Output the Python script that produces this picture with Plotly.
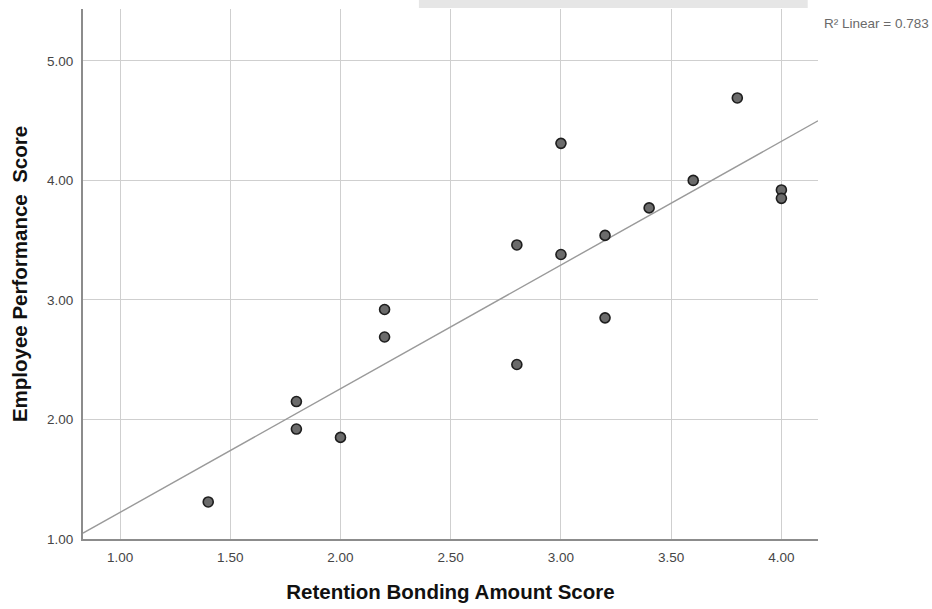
import numpy as np
import plotly.graph_objects as go

# Retention bonding amount score (x) vs employee performance score (y)
retention = [1.4, 1.8, 1.8, 2.0, 2.2, 2.2, 2.8, 2.8, 3.0, 3.0, 3.2, 3.2, 3.4, 3.6, 3.8, 4.0, 4.0]
performance = [1.31, 2.15, 1.92, 1.85, 2.92, 2.69, 3.46, 2.46, 4.31, 3.38, 3.54, 2.85, 3.77, 4.00, 4.69, 3.92, 3.85]

x_ticks = [1.0, 1.5, 2.0, 2.5, 3.0, 3.5, 4.0]
y_ticks = [1.0, 2.0, 3.0, 4.0, 5.0]

x_range = [0.832, 4.166]
y_range = [1.0, 5.434]

fit_label = "R² Linear = 0.783"

# Least-squares linear fit line
xa = np.array(retention)
ya = np.array(performance)
slope, intercept = np.polyfit(xa, ya, 1)
fit_x = np.array(x_range)
fit_y = slope * fit_x + intercept

fig = go.Figure()
fig.add_trace(go.Scatter(
    x=fit_x, y=fit_y, mode="lines",
    line=dict(color="#9a9a9a", width=1.4),
    hoverinfo="skip", showlegend=False,
))
fig.add_trace(go.Scatter(
    x=retention, y=performance, mode="markers",
    marker=dict(size=10, color="#6b6b6b", line=dict(color="#1e1e1e", width=1.6)),
    showlegend=False, cliponaxis=False,
))

base = "Liberation Sans, Arial, sans-serif"
axis_font = dict(family=base, size=13.5, color="#454545")
title_font = dict(family=base, size=20.5, color="#111111")

fig.update_layout(
    width=932, height=609,
    margin=dict(l=83, r=114, t=9, b=70),
    paper_bgcolor="white", plot_bgcolor="white",
    font=dict(family=base),
    xaxis=dict(
        range=x_range, tickvals=x_ticks, ticktext=[f"{v:.2f}" for v in x_ticks],
        showgrid=True, gridcolor="#cfcfcf", gridwidth=1.4,
        zeroline=False, showline=True, linecolor="#8c8c8c", linewidth=2,
        ticks="", tickfont=axis_font, ticklabelstandoff=5,
        title=dict(text="<b>Retention Bonding Amount Score</b>", font=title_font, standoff=20),
    ),
    yaxis=dict(
        range=y_range, tickvals=y_ticks, ticktext=[f"{v:.2f}" for v in y_ticks],
        showgrid=True, gridcolor="#cfcfcf", gridwidth=1.4,
        zeroline=False, showline=True, linecolor="#8c8c8c", linewidth=2,
        ticks="", tickfont=axis_font, ticklabelstandoff=5,
        title=dict(text="<b>Employee Performance  Score</b>", font=title_font, standoff=14),
    ),
    annotations=[dict(
        xref="paper", yref="paper", x=1.0, y=1.0, xanchor="left", yanchor="top",
        xshift=4, yshift=-5,
        text=fit_label, showarrow=False,
        font=dict(family=base, size=13.5, color="#6a6a6a"),
    )],
    shapes=[dict(
        type="rect", xref="paper", yref="paper", layer="below",
        x0=0.457, x1=0.986, y0=1.002, y1=1.017, line=dict(width=0),
        fillcolor="#e6e6e6",
    )],
)

fig.write_html("out.html")
